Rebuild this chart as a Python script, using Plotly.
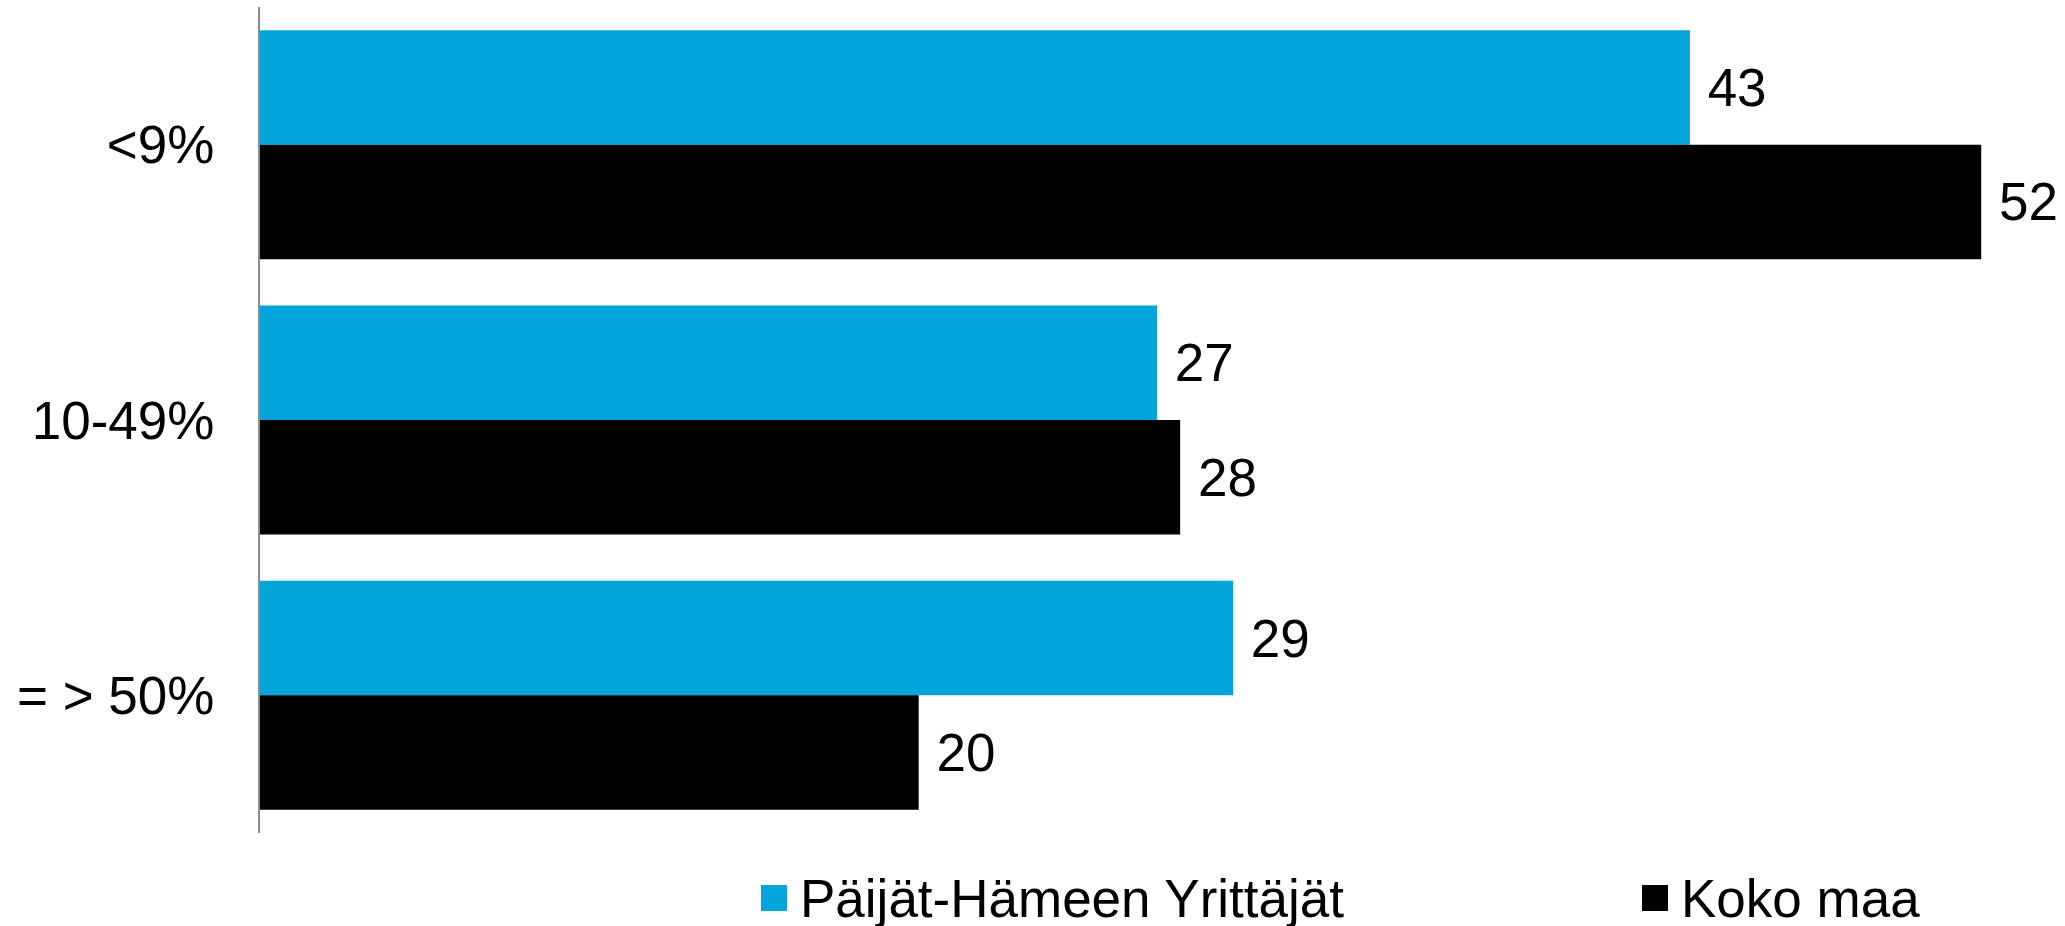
import plotly.graph_objects as go

categories = ["<9%", "10-49%", "= > 50%"]
paijat_hame = [43.2, 27.1, 29.4]
koko_maa = [52.0, 27.8, 19.9]
series_names = ["Päijät-Hämeen Yrittäjät", "Koko maa"]
colors = ["#04A5DA", "#000000"]

W, H = 2065, 926
ML, MR, MT, MB = 260, 10, 7, 93
PW, PH = W - ML - MR, H - MT - MB
FONT = dict(family="Arial, Liberation Sans, sans-serif", size=53, color="#000000")

fig = go.Figure()
for name, vals, col in zip(series_names, [paijat_hame, koko_maa], colors):
    fig.add_trace(go.Bar(
        y=categories, x=vals, name=name, orientation="h",
        marker=dict(color=col, line=dict(width=0)),
        texttemplate=" %{x:.0f}", textposition="outside", textfont=FONT,
        constraintext="none", cliponaxis=False, showlegend=False,
    ))

# legend drawn by hand so the squares match the original size
legend_px = [(761, 798), (1642, 1679)]  # square left, text left (pixels)
legend_y = 898
sq = 26
for (sx, tx), name, col in zip(legend_px, series_names, colors):
    fig.add_shape(type="rect", xref="paper", yref="paper",
                  x0=(sx - ML) / PW, x1=(sx + sq - ML) / PW,
                  y0=(H - MB - legend_y - sq / 2) / PH, y1=(H - MB - legend_y + sq / 2) / PH,
                  fillcolor=col, line=dict(width=0))
    fig.add_annotation(text=name, xref="paper", yref="paper",
                       x=(tx - ML) / PW, y=(H - MB - legend_y) / PH,
                       xanchor="left", yanchor="middle", showarrow=False, font=FONT)

fig.update_layout(
    width=W, height=H,
    margin=dict(l=ML, r=MR, t=MT, b=MB),
    plot_bgcolor="white", paper_bgcolor="white",
    barmode="group", bargap=0.168, bargroupgap=0,
    font=FONT,
    xaxis=dict(range=[0, PW / 33.1], showgrid=False, zeroline=False,
               showticklabels=False, showline=False, ticks=""),
    yaxis=dict(autorange="reversed", showgrid=False, zeroline=False,
               showline=True, linecolor="#8c8c8c", linewidth=2,
               ticks="", ticklabelstandoff=33, tickfont=FONT),
)

fig.write_html("out.html", config={"displayModeBar": False},
               post_script="document.body.style.margin='0';")
